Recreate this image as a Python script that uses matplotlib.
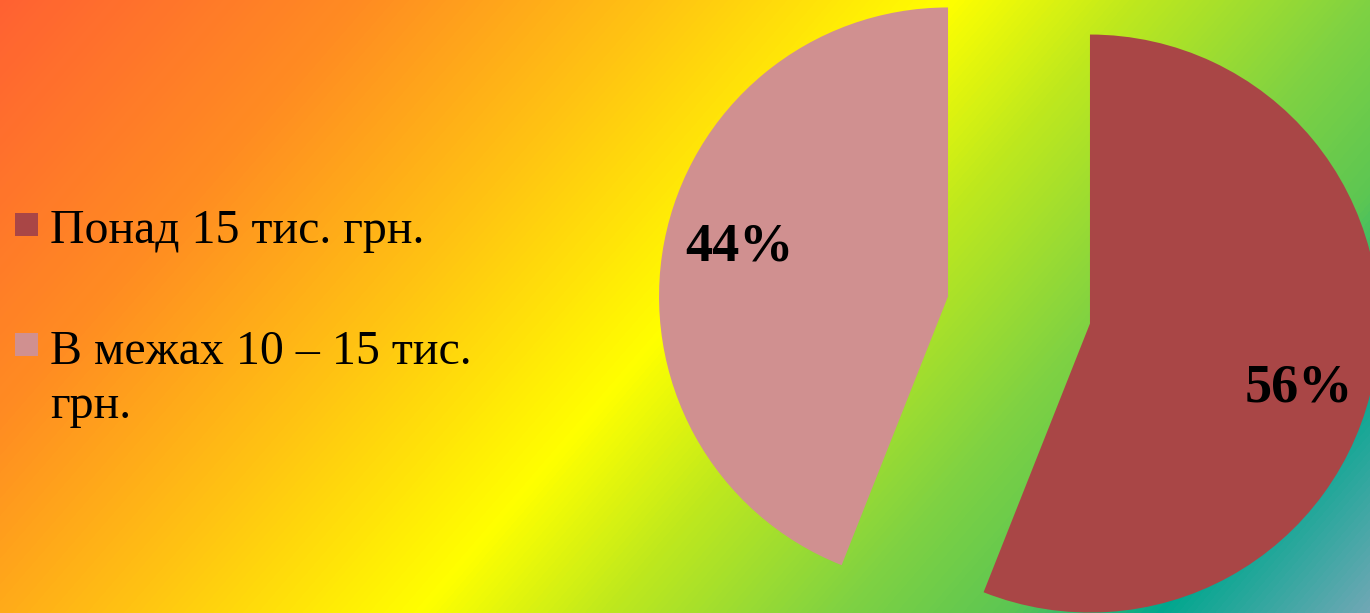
import numpy as np
import matplotlib
matplotlib.use("Agg")
import matplotlib.pyplot as plt
from matplotlib.colors import LinearSegmentedColormap
from matplotlib.patches import Rectangle

# data
labels = ["Понад 15 тис. грн.", "В межах 10 – 15 тис.\nгрн."]
shares = [56, 44]
colors = ["#A94646", "#D09090"]

W, H, DPI = 1370, 613, 100
plt.rcParams['font.family'] = ['Liberation Serif', 'DejaVu Serif']

fig = plt.figure(figsize=(W / DPI, H / DPI), dpi=DPI)

# diagonal gradient background
bg = LinearSegmentedColormap.from_list("bg", [
    (0.0, "#FF6232"), (0.19, "#FF8C22"), (0.35, "#FFC512"), (0.5, "#FFFF00"),
    (0.6, "#BDE81E"), (0.72, "#80D242"), (0.81, "#5CC653"), (0.89, "#00A88E"),
    (1.0, "#70A8B5")])
xx, yy = np.meshgrid(np.arange(W), np.arange(H))
t = (613 * xx + 530 * yy) / (613 * W + 530 * H)
bax = fig.add_axes([0, 0, 1, 1], zorder=0)
bax.imshow(t, cmap=bg, aspect='auto', extent=(0, 1, 0, 1), origin='upper', vmin=0, vmax=1)
bax.axis('off')

# pie axes: unit radius = 289 px, centre at (1019, 310) from top-left
r_px, cx, cy = 289, 1019, 310
ax = fig.add_axes([0, 0, 1, 1], zorder=1)
ax.patch.set_alpha(0)
wedges, _, autotexts = ax.pie(shares, colors=colors, startangle=90, counterclock=False,
                              explode=[0.25, 0.25], autopct='%1.0f%%', pctdistance=0.76,
                              wedgeprops=dict(linewidth=0),
                              textprops=dict(fontsize=39, fontweight='bold', color='black'))
# nudge the percent labels a few degrees clockwise and slightly down, as in the source
for w, txt in zip(wedges, autotexts):
    ang = np.deg2rad((w.theta1 + w.theta2) / 2 - 4.5)
    cxw, cyw = w.center
    txt.set_position((cxw + 0.75 * np.cos(ang), cyw + 0.75 * np.sin(ang) - 0.028))
ax.set_aspect('auto')
ax.set_xlim(-cx / r_px, (W - cx) / r_px)
ax.set_ylim(-(H - cy) / r_px, cy / r_px)
ax.axis('off')

# legend drawn by hand so the marker sits at the first line
line_px = 55
base_y = [370, 250]
for lab, col, by in zip(labels, colors, base_y):
    nlines = lab.count("\n")
    fig.text(50 / W, (by - nlines * line_px) / H, lab, fontsize=34.5, va='baseline',
             ha='left', linespacing=1.3, zorder=3)
    fig.patches.append(Rectangle((15 / W, (by + 7) / H), 23 / W, 23 / H,
                                 transform=fig.transFigure, facecolor=col,
                                 edgecolor='none', zorder=3))

fig.savefig("out.png", dpi=DPI)
